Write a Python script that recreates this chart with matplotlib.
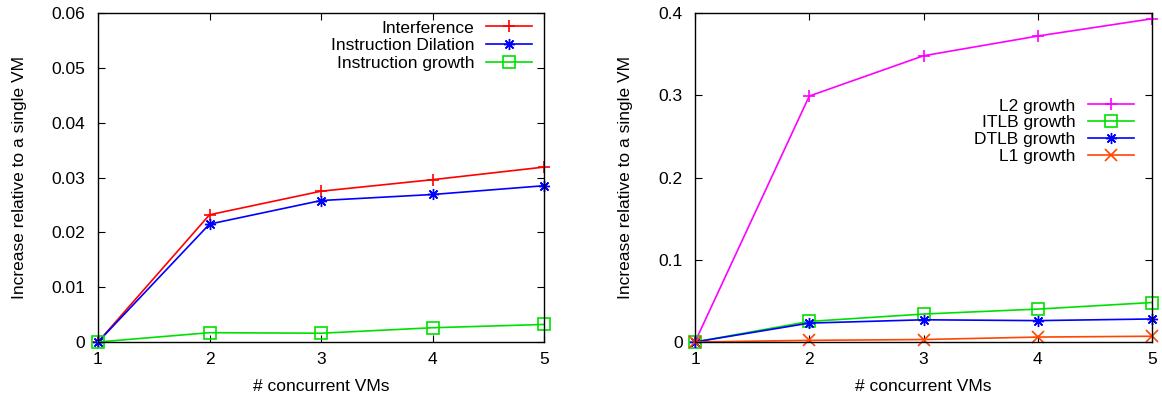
import matplotlib
matplotlib.use("Agg")
import matplotlib.pyplot as plt

plt.rcParams['font.family'] = ['Liberation Sans', 'DejaVu Sans']

vms = [1, 2, 3, 4, 5]
x_ticks = [1, 2, 3, 4, 5]

interference = [0, 0.0232, 0.0275, 0.0296, 0.0319]
instr_dilation = [0, 0.0215, 0.0258, 0.0269, 0.0285]
instr_growth = [0, 0.0017, 0.0016, 0.0026, 0.0032]
left_yticks = [0, 0.01, 0.02, 0.03, 0.04, 0.05, 0.06]
left_yticklabels = ['0', '0.01', '0.02', '0.03', '0.04', '0.05', '0.06']

l2_growth = [0, 0.299, 0.348, 0.372, 0.393]
itlb_growth = [0, 0.025, 0.034, 0.040, 0.048]
dtlb_growth = [0, 0.023, 0.027, 0.026, 0.028]
l1_growth = [0, 0.002, 0.003, 0.006, 0.007]
right_yticks = [0, 0.1, 0.2, 0.3, 0.4]
right_yticklabels = ['0', '0.1', '0.2', '0.3', '0.4']

fig = plt.figure(figsize=(11.62, 4.0), dpi=100)
W, H = 1162, 400
axL = fig.add_axes([98 / W, 1 - 342 / H, (544 - 98) / W, (342 - 13) / H])
axR = fig.add_axes([695 / W, 1 - 342 / H, (1152 - 695) / W, (342 - 13) / H])

FS = 12.5
lw = 1.2
ms = 8
star = (8, 2, 0)
green = '#00e000'
axL.plot(vms, interference, color='#ff0000', marker='+', ms=ms, lw=lw, mew=1.2, label='Interference', clip_on=False)
axL.plot(vms, instr_dilation, color='#0000ff', marker=star, ms=ms, lw=lw, mew=1.0, label='Instruction Dilation', clip_on=False)
axL.plot(vms, instr_growth, color=green, marker='s', mfc='none', ms=ms, lw=lw, mew=1.2, label='Instruction growth', clip_on=False)

axR.plot(vms, l2_growth, color='#ff00ff', marker='+', ms=ms, lw=lw, mew=1.2, label='L2 growth', clip_on=False)
axR.plot(vms, itlb_growth, color=green, marker='s', mfc='none', ms=ms, lw=lw, mew=1.2, label='ITLB growth', clip_on=False)
axR.plot(vms, dtlb_growth, color='#0000ff', marker=star, ms=ms, lw=lw, mew=1.0, label='DTLB growth', clip_on=False)
axR.plot(vms, l1_growth, color='#ff4500', marker='x', ms=ms, lw=lw, mew=1.2, label='L1 growth', clip_on=False)

for ax, yt, ytl, ylim in [(axL, left_yticks, left_yticklabels, 0.06), (axR, right_yticks, right_yticklabels, 0.4)]:
    ax.set_xlim(1, 5)
    ax.set_ylim(0, ylim)
    ax.set_xticks(x_ticks)
    ax.set_yticks(yt)
    ax.set_yticklabels(ytl)
    ax.tick_params(direction='in', top=True, right=True, length=5, width=0.8, labelsize=FS)
    ax.tick_params(axis='x', pad=7)
    ax.tick_params(axis='y', pad=9)
    ax.set_xlabel('# concurrent VMs', fontsize=FS, labelpad=9)
    ax.set_ylabel('Increase relative to a single VM', fontsize=FS, labelpad=18)
    for s in ax.spines.values():
        s.set_linewidth(1.0)

leg_kw = dict(loc='upper right', frameon=False, markerfirst=False, fontsize=FS,
              handlelength=2.65, borderaxespad=0, borderpad=0.2,
              handletextpad=0.7)
axL.legend(bbox_to_anchor=(0.982, 0.988), labelspacing=0.15, **leg_kw)
axR.legend(bbox_to_anchor=(0.968, 0.751), labelspacing=0.1, **leg_kw)

fig.savefig('out.png', dpi=100)
